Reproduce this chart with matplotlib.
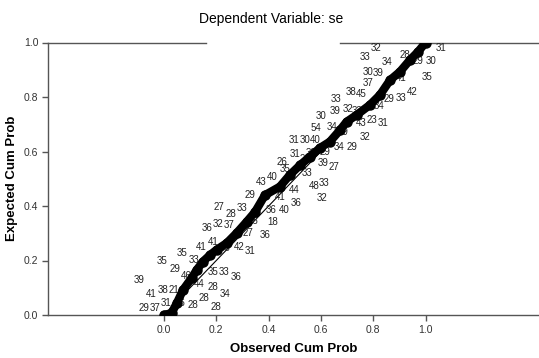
import matplotlib
matplotlib.use("Agg")
import matplotlib.pyplot as plt

plt.rcParams['font.family'] = ['Liberation Sans', 'DejaVu Sans']

# P-P curve (observed vs expected cumulative probabilities)
observed = [0.0, 0.029, 0.049, 0.073, 0.106, 0.125, 0.149, 0.176, 0.201, 0.240,
            0.278, 0.316, 0.348, 0.386, 0.443, 0.481, 0.520, 0.558, 0.596, 0.634,
            0.673, 0.698, 0.736, 0.787, 0.825, 0.864, 0.902, 0.940, 0.971, 1.0]
expected = [0.0, 0.007, 0.043, 0.092, 0.136, 0.165, 0.196, 0.220, 0.239, 0.264,
            0.301, 0.342, 0.378, 0.440, 0.471, 0.514, 0.550, 0.581, 0.613, 0.636,
            0.679, 0.709, 0.734, 0.771, 0.807, 0.862, 0.893, 0.936, 0.966, 1.0]

# case labels
label_x = [0.210, 0.256, 0.298, 0.165, 0.207, 0.248, 0.188, 0.144, 0.234, 0.288,
           0.329, 0.068, 0.116, -0.009, 0.042, 0.084, 0.188, 0.229, 0.275, -0.094,
           0.135, 0.188, 0.234, -0.047, -0.005, 0.038, 0.008, -0.076, -0.034, 0.110,
           0.153, 0.198, 0.061, 0.329, 0.370, 0.412, 0.450, 0.462, 0.501, 0.539,
           0.562, 0.498, 0.539, 0.577, 0.545, 0.609, 0.650, 0.499, 0.574, 0.613,
           0.606, 0.443, 0.504, 0.460, 0.409, 0.415, 0.322, 0.386, 0.340, 0.615,
           0.669, 0.717, 0.600, 0.581, 0.641, 0.685, 0.653, 0.703, 0.737, 0.659,
           0.715, 0.753, 0.753, 0.793, 0.838, 0.768, 0.823, 0.860, 0.906, 0.950,
           0.781, 0.781, 0.819, 0.908, 1.004, 0.810, 1.057, 0.768, 0.853, 0.921,
           0.972, 1.019]
label_y = [0.395, 0.372, 0.393, 0.318, 0.334, 0.330, 0.269, 0.248, 0.247, 0.251,
           0.236, 0.229, 0.202, 0.198, 0.169, 0.143, 0.159, 0.159, 0.138, 0.128,
           0.114, 0.104, 0.077, 0.077, 0.092, 0.092, 0.045, 0.025, 0.025, 0.037,
           0.061, 0.028, 0.043, 0.440, 0.489, 0.508, 0.563, 0.535, 0.591, 0.571,
           0.593, 0.642, 0.642, 0.642, 0.522, 0.557, 0.542, 0.459, 0.473, 0.486,
           0.428, 0.432, 0.410, 0.385, 0.385, 0.342, 0.300, 0.294, 0.345, 0.599,
           0.618, 0.618, 0.729, 0.686, 0.691, 0.672, 0.749, 0.756, 0.750, 0.792,
           0.819, 0.811, 0.706, 0.714, 0.703, 0.652, 0.767, 0.792, 0.795, 0.819,
           0.850, 0.893, 0.887, 0.869, 0.874, 0.979, 0.979, 0.948, 0.930, 0.954,
           0.933, 0.932]
label_text = ["27", "28", "33", "36", "32", "37", "41", "41", "35", "42",
              "31", "35", "33", "35", "29", "46", "35", "33", "36", "39",
              "44", "28", "34", "41", "38", "21", "31", "29", "37", "28",
              "28", "28", "16", "29", "43", "40", "26", "35", "31", "29",
              "39", "31", "30", "40", "33", "39", "27", "44", "48", "33",
              "32", "41", "36", "40", "36", "18", "27", "36", "28", "29",
              "34", "29", "30", "54", "34", "39", "39", "32", "33", "33",
              "38", "45", "43", "23", "31", "32", "34", "29", "33", "42",
              "37", "30", "39", "41", "35", "32", "31", "33", "34", "28",
              "29", "30"]

x_ticks = [0.0, 0.2, 0.4, 0.6, 0.8, 1.0]
y_ticks = [0.0, 0.2, 0.4, 0.6, 0.8, 1.0]
tick_labels = ["0.0", "0.2", "0.4", "0.6", "0.8", "1.0"]

fig = plt.figure(figsize=(5.39, 3.58), dpi=100)
ax = fig.add_axes([48 / 539, 43 / 358, 1 - 48 / 539, (315 - 42.5) / 358])
ax.set_xlim(-0.443, 1.433)
ax.set_ylim(0, 1)

spine_col = '#555555'
for s in ['right', 'top']:
    ax.spines[s].set_visible(False)
for s in ['left', 'bottom']:
    ax.spines[s].set_color(spine_col)
    ax.spines[s].set_linewidth(1.0)

# top border with a gap
ax.plot([0, 0.322], [1, 1], transform=ax.transAxes, color=spine_col, lw=1.0, clip_on=False)
ax.plot([0.595, 1], [1, 1], transform=ax.transAxes, color=spine_col, lw=1.0, clip_on=False)

# diagonal reference line
ax.plot([0, 1], [0, 1], color='black', lw=0.8, zorder=2)

# labels
for lx, ly, lt in zip(label_x, label_y, label_text):
    ax.text(lx, ly, lt, fontsize=7, color='#222222', ha='center', va='center', zorder=3)

# thick P-P curve
ax.plot(observed, expected, color='black', lw=6, solid_capstyle='round', zorder=4)
ax.plot(observed, expected, 'o', color='black', markersize=6.5, zorder=4)

ax.set_xticks(x_ticks)
ax.set_xticklabels(tick_labels)
ax.set_yticks(y_ticks)
ax.set_yticklabels(tick_labels)
ax.tick_params(axis='both', labelsize=7.5, labelcolor='#333333', color=spine_col,
               length=4, width=1, pad=3)

ax.set_xlabel("Observed Cum Prob", fontsize=9.5, fontweight='bold', labelpad=6)
ax.set_ylabel("Expected Cum Prob", fontsize=9.5, fontweight='bold', labelpad=4)
fig.text(271 / 539, 1 - 19 / 358, "Dependent Variable: se", fontsize=10,
         ha='center', va='center')

fig.savefig("out.png", dpi=100)
